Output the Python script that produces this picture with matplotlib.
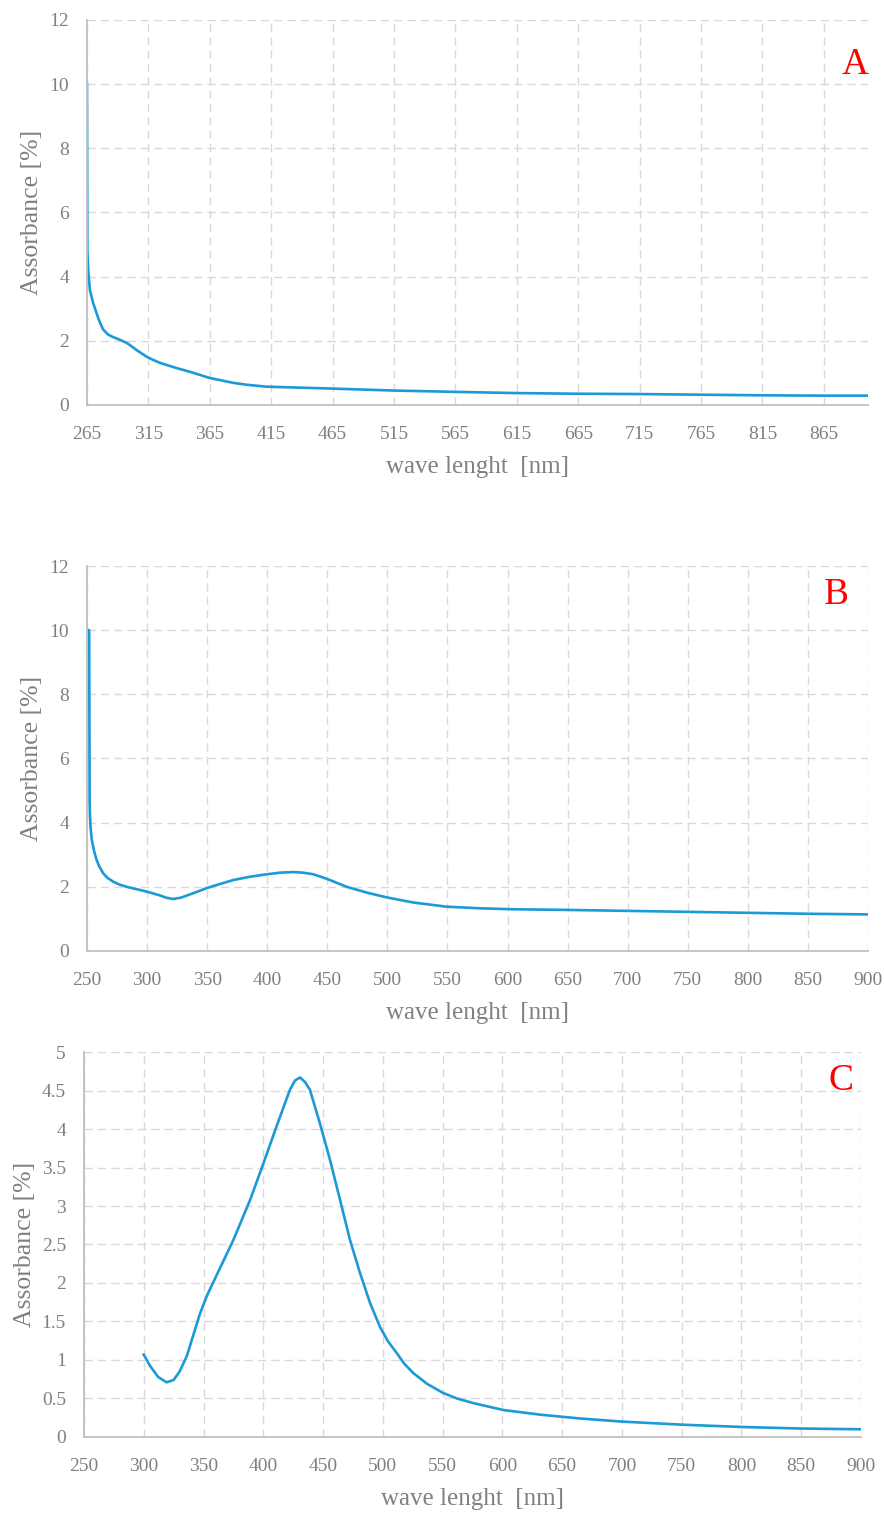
import numpy as np
import matplotlib.pyplot as plt

plt.rcParams['font.family'] = ['Liberation Serif', 'DejaVu Serif']

# Panel A - absorbance spectrum
wl_a = [265, 265.3, 266, 267.4, 270, 272.9, 275, 278, 282, 286, 292, 297.6, 305.5, 313.7,
        318, 324.5, 338, 350, 365, 384, 395, 411, 438, 465, 514, 563, 615, 664, 715, 764,
        816, 865, 900]
abs_a = [10, 4.83, 4.2, 3.58, 3.18, 2.85, 2.62, 2.36, 2.2, 2.12, 2.03, 1.93, 1.71, 1.50,
         1.42, 1.31, 1.15, 1.02, 0.84, 0.69, 0.63, 0.57, 0.54, 0.51, 0.45, 0.41, 0.37, 0.35,
         0.34, 0.32, 0.30, 0.29, 0.29]

# Panel B
wl_b = [250, 251.8, 252.2, 252.5, 253, 254, 256, 258, 260, 263.5, 267, 271.8, 277, 283,
        299.7, 310, 316, 321.7, 328, 338.5, 349.6, 360, 371.7, 385, 399.5, 410.6, 421.7,
        430, 438.4, 445, 452.2, 466.1, 482.8, 499.4, 521.6, 549.4, 577, 604.8, 649, 699,
        749, 799, 849, 899]
abs_b = [10, 10, 4.7, 4.2, 3.85, 3.46, 3.1, 2.84, 2.65, 2.42, 2.28, 2.16, 2.07, 2.0,
         1.85, 1.74, 1.66, 1.62, 1.66, 1.80, 1.96, 2.08, 2.21, 2.31, 2.39, 2.44, 2.46,
         2.44, 2.39, 2.31, 2.21, 2.0, 1.82, 1.67, 1.51, 1.38, 1.33, 1.30, 1.28, 1.25,
         1.22, 1.19, 1.16, 1.14]

# Panel C
wl_c = [300, 305, 312, 319, 325, 330, 336, 342, 347, 353, 360, 375, 389, 400, 411, 418,
        422.3, 426.5, 430.7, 434.9, 439, 443, 447.4, 455.8, 464.2, 472.5, 480.9, 489.3,
        497.6, 504, 511.6, 518, 525.5, 537, 550.6, 562, 575.7, 600.8, 631.5, 665, 699.8,
        750, 800, 849, 899]
abs_c = [1.07, 0.93, 0.78, 0.71, 0.74, 0.85, 1.05, 1.35, 1.6, 1.84, 2.07, 2.56, 3.08,
         3.55, 4.03, 4.33, 4.51, 4.63, 4.67, 4.61, 4.51, 4.3, 4.07, 3.60, 3.08, 2.56,
         2.13, 1.74, 1.43, 1.25, 1.09, 0.95, 0.83, 0.69, 0.57, 0.50, 0.44, 0.35, 0.29,
         0.24, 0.20, 0.16, 0.13, 0.11, 0.10]

xticks_a = np.arange(265, 866, 50)
xticks_bc = np.arange(250, 901, 50)
yticks_ab = np.arange(0, 13, 2)
yticks_c = np.arange(0, 5.01, 0.5)

line_color = '#1b9ad6'
text_color = '#808080'
grid_color = '#d9d9d9'

fig = plt.figure(figsize=(8.84, 15.15), dpi=100)

def style_axis(ax, xticks, yticks, xlim, ylim, ylabels, letter, letter_x, letter_y, ylab_x):
    ax.set_xlim(*xlim)
    ax.set_ylim(*ylim)
    ax.set_xticks(xticks)
    ax.set_yticks(yticks)
    ax.set_yticklabels(ylabels)
    ax.set_axisbelow(True)
    ax.grid(True, color=grid_color, linestyle=(0, (6, 3.6)), linewidth=1.0)
    for s in ['top', 'right']:
        ax.spines[s].set_visible(False)
    for s in ['left', 'bottom']:
        ax.spines[s].set_color('#bfbfbf')
        ax.spines[s].set_linewidth(1.3)
    ax.tick_params(length=0, labelcolor=text_color, labelsize=14)
    ax.tick_params(axis='y', pad=13)
    ax.tick_params(axis='x', pad=15)
    ax.set_ylabel('Assorbance [%]', fontsize=18.5, color=text_color)
    ax.yaxis.set_label_coords(ylab_x, 0.5)
    ax.yaxis.label.set_va('center')
    ax.set_xlabel('wave lenght  [nm]', fontsize=18, color=text_color)
    ax.xaxis.set_label_coords(0.5, -0.16)
    ax.xaxis.label.set_va('center')
    ax.text(letter_x, letter_y, letter, transform=ax.transAxes, color='red',
            fontsize=27, ha='center', va='center')

# Panel A
ax1 = fig.add_axes([0.0984, 0.7327, 0.8835, 0.2541])
ax1.plot(wl_a, abs_a, color=line_color, linewidth=1.9)
style_axis(ax1, xticks_a, yticks_ab, (265, 901), (0, 12), [str(v) for v in yticks_ab],
           'A', 0.983, 0.883, -0.070)

# Panel B
ax2 = fig.add_axes([0.0984, 0.3723, 0.8835, 0.2541])
ax2.plot(wl_b, abs_b, color=line_color, linewidth=1.9)
style_axis(ax2, xticks_bc, yticks_ab, (250, 900), (0, 12), [str(v) for v in yticks_ab],
           'B', 0.960, 0.925, -0.070)

# Panel C
ax3 = fig.add_axes([0.0950, 0.0515, 0.879, 0.2541])
ax3.plot(wl_c, abs_c, color=line_color, linewidth=1.9)
style_axis(ax3, xticks_bc, yticks_c, (250, 900), (0, 5), ['%g' % v for v in yticks_c],
           'C', 0.974, 0.925, -0.0765)

fig.savefig('out.png', dpi=100)
